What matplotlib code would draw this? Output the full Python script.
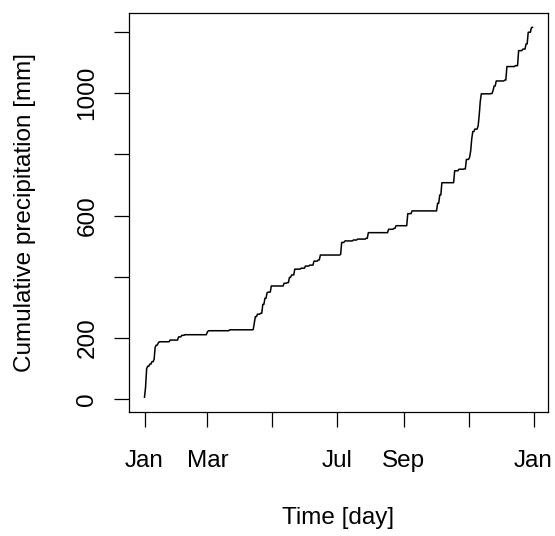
import numpy as np
import matplotlib
matplotlib.use("Agg")
import matplotlib.pyplot as plt

plt.rcParams['font.family'] = ['Liberation Sans', 'DejaVu Sans']

# daily rainfall events over one year (day of year starting at 0, amount in mm)
rain_day = [0, 1, 2, 3, 5, 7, 9, 10, 11, 13, 14, 24, 32, 35, 38, 59, 60, 80,
            102, 103, 104, 106, 109, 111, 113, 115, 116, 119, 131, 134, 136,
            138, 141, 147, 151, 155, 159, 163, 165, 184, 185, 188, 196, 200,
            208, 210, 229, 234, 236, 247, 251, 275, 277, 279, 291, 295, 300,
            302, 305, 306, 307, 308, 310, 313, 314, 315, 316, 325, 327, 328,
            330, 338, 340, 348, 351, 355, 358, 360, 363, 364]
rain_mm = [7, 33, 60, 8, 7, 8, 7, 40, 7, 8, 3, 5.5, 10.5, 5, 2, 9, 4, 3,
           1, 22, 20, 8, 3, 29, 20, 18, 2, 20, 9, 2, 17,
           8, 19, 3, 7, 3, 13, 4, 16, 2, 39, 5, 3, 3,
           2.6, 18.4, 11, 3, 8.7, 39.3, 9, 25, 27, 40, 39, 5, 1,
           31, 7, 20, 40, 24, 8, 10, 35, 45, 25, 1, 9.5, 15,
           16.5, 3, 44, 3, 49, 5, 17, 38, 15, 1]

month_ticks = [0, 59, 120, 181, 243, 304, 365]
month_labels = ["Jan", "Mar", "", "Jul", "Sep", "", "Jan"]
y_ticks = [0, 200, 400, 600, 800, 1000, 1200]
y_labels = ["0", "200", "", "600", "", "1000", ""]

days = np.arange(365)
daily = np.zeros(365)
daily[rain_day] = rain_mm
cumulative = np.cumsum(daily)

fs = 17.5
fig = plt.figure(figsize=(5.55, 5.36), dpi=100)
ax = fig.add_axes([0.2324, 0.2313, 0.7550, 0.7453])
ax.plot(days, cumulative, color="black", lw=1.1)
ax.margins(x=0.04, y=0.04)

ax.set_xticks(month_ticks)
ax.set_xticklabels(month_labels)
ax.set_yticks(y_ticks)
ax.set_yticklabels(y_labels, rotation=90, va="center")
ax.tick_params(direction="out", length=11, width=0.9, labelsize=fs, pad=16.5)
ax.tick_params(axis="y", pad=11)
for s in ax.spines.values():
    s.set_linewidth(0.9)

ax.set_xlabel("Time [day]", fontsize=fs, va="center")
ax.xaxis.set_label_coords(0.5, -0.2653)
ax.set_ylabel("Cumulative precipitation [mm]", fontsize=fs, va="center")
ax.yaxis.set_label_coords(-0.2482, 0.5)

fig.savefig("out.png", dpi=100)
